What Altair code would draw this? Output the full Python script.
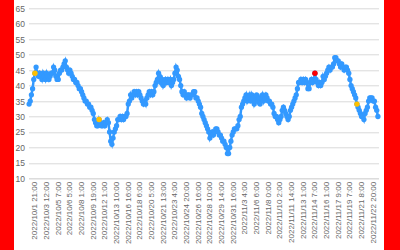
import json
import altair as alt
import pandas as pd

# series values (one per category)
values = [
    34, 35, 37, 39, 42, 44, 46, 44, 43, 44,
    43, 42, 44, 43, 42, 44, 43, 42, 43, 44,
    44, 46, 45, 43, 42, 42, 44, 45, 45, 46,
    47, 48, 46, 45, 44, 45, 44, 43, 42, 42,
    41, 41, 40, 39, 39, 38, 37, 36, 35, 35,
    34, 34, 33, 33, 32, 31, 29, 28, 27, 27,
    29, 28, 27, 27, 28, 27, 28, 29, 28, 25,
    22, 21, 23, 25, 26, 27, 29, 29, 30, 29,
    30, 29, 30, 30, 31, 34, 35, 37, 36, 37,
    38, 37, 38, 37, 38, 37, 36, 35, 34, 35,
    34, 36, 37, 38, 37, 38, 37, 38, 40, 41,
    42, 44, 43, 41, 42, 40, 41, 42, 41, 42,
    41, 42, 40, 41, 42, 44, 46, 45, 43, 42,
    40, 38, 37, 38, 37, 36, 37, 37, 36, 37,
    37, 38, 38, 36, 36, 35, 34, 33, 31, 30,
    29, 28, 27, 26, 25, 23, 24, 25, 24, 25,
    26, 26, 25, 24, 24, 23, 22, 22, 21, 20,
    18, 18, 20, 22, 24, 25, 26, 26, 26, 27,
    29, 30, 33, 34, 35, 36, 37, 35, 36, 37,
    35, 37, 36, 34, 35, 37, 35, 36, 34, 36,
    37, 35, 36, 37, 36, 35, 35, 34, 34, 33,
    31, 30, 30, 29, 28, 29, 30, 32, 33, 32,
    31, 30, 29, 30, 32, 33, 34, 35, 36, 37,
    39, 41, 41, 42, 41, 42, 41, 42, 41, 39,
    39, 41, 42, 41, 42, 44, 42, 41, 40, 41,
    40, 41, 43, 42, 43, 44, 45, 46, 45, 46,
    46, 47, 49, 49, 48, 48, 47, 46, 47, 46,
    45, 46, 46, 45, 44, 42, 40, 39, 38, 37,
    36, 34, 33, 32, 31, 30, 30, 29, 31, 32,
    33, 35, 36, 36, 36, 35, 35, 33, 32, 30,
]

tick_labels = [
    "2022/10/1 21:00", "2022/10/3 12:00", "2022/10/5 7:00", "2022/10/6 5:00",
    "2022/10/8 1:00", "2022/10/9 19:00", "2022/10/12 1:00", "2022/10/13 10:00",
    "2022/10/16 16:00", "2022/10/18 6:00", "2022/10/20 5:00", "2022/10/21 13:00",
    "2022/10/23 4:00", "2022/10/24 20:00", "2022/10/26 16:00", "2022/10/28 10:00",
    "2022/10/29 14:00", "2022/10/31 16:00", "2022/11/3 4:00", "2022/11/6 6:00",
    "2022/11/8 0:00", "2022/11/10 2:00", "2022/11/11 14:00", "2022/11/13 1:00",
    "2022/11/14 7:00", "2022/11/16 1:00", "2022/11/17 9:00", "2022/11/19 7:00",
    "2022/11/21 8:00", "2022/11/22 20:00",
]
tick_index = [5 + 10 * k for k in range(len(tick_labels))]
y_ticks = list(range(10, 66, 5))

yellow_idx = [5, 60, 281]
red_idx = [245]

kind = []
for i in range(len(values)):
    if i in red_idx:
        kind.append("red")
    elif i in yellow_idx:
        kind.append("yellow")
    else:
        kind.append("normal")

df = pd.DataFrame({"i": list(range(len(values))), "v": values, "kind": kind})

BLUE = "#3399FF"
FONT = "Liberation Sans"
W, H = 350, 170
PL, PT = 28.5, 8.3

label_expr = json.dumps(tick_labels) + "[round((datum.value - 5) / 10)]"

x_enc = alt.X(
    "i:Q",
    scale=alt.Scale(domain=[-0.5, len(values) - 0.5], nice=False, zero=False),
    axis=alt.Axis(
        values=tick_index, labelExpr=label_expr, labelAngle=270, grid=False,
        ticks=False, domainColor="#D9D9D9", domainWidth=1, labelFontSize=8,
        labelColor="#666666", labelFont=FONT, labelPadding=3, title=None,
        labelOverlap=False, labelFlush=False, labelBound=False,
    ),
)
y_enc = alt.Y(
    "v:Q",
    scale=alt.Scale(domain=[10, 65], nice=False, zero=False),
    axis=alt.Axis(
        values=y_ticks, grid=True, gridColor="#D9D9D9",
        gridWidth=1, domain=False, ticks=False, labelFontSize=8.5,
        labelColor="#666666", labelFont=FONT, labelPadding=4, title=None,
        labelOverlap=False, labelFlush=False, labelBound=False,
    ),
)

band = pd.DataFrame({"a": [0]})
red_left = alt.Chart(band).mark_rect(color="#FF0000").encode(
    x=alt.value(-PL), x2=alt.value(14 - PL), y=alt.value(-PT), y2=alt.value(250 - PT)
)
red_right = alt.Chart(band).mark_rect(color="#FF0000").encode(
    x=alt.value(384 - PL), x2=alt.value(400 - PL), y=alt.value(-PT), y2=alt.value(250 - PT)
)

base = alt.Chart(df).encode(x=x_enc, y=y_enc)
line = base.mark_line(color=BLUE, strokeWidth=2.5)
pts = base.mark_circle(size=28, opacity=1, color=BLUE)
hi = base.transform_filter("datum.kind != 'normal'").mark_circle(
    size=30, opacity=1
).encode(
    color=alt.Color("kind:N", scale=alt.Scale(domain=["yellow", "red"],
                                              range=["#FFC000", "#FF0000"]), legend=None),
)

chart = alt.layer(red_left, red_right, line, pts, hi).properties(
    width=W, height=H,
    padding={"left": PL, "top": PT, "right": 400 - PL - W, "bottom": 250 - PT - H},
    autosize=alt.AutoSizeParams(type="none"),
    background="white",
).configure_view(stroke=None).configure_axis(labelOverlap=False)

chart.save("out.html", embed_options={"renderer": "svg", "actions": False})
